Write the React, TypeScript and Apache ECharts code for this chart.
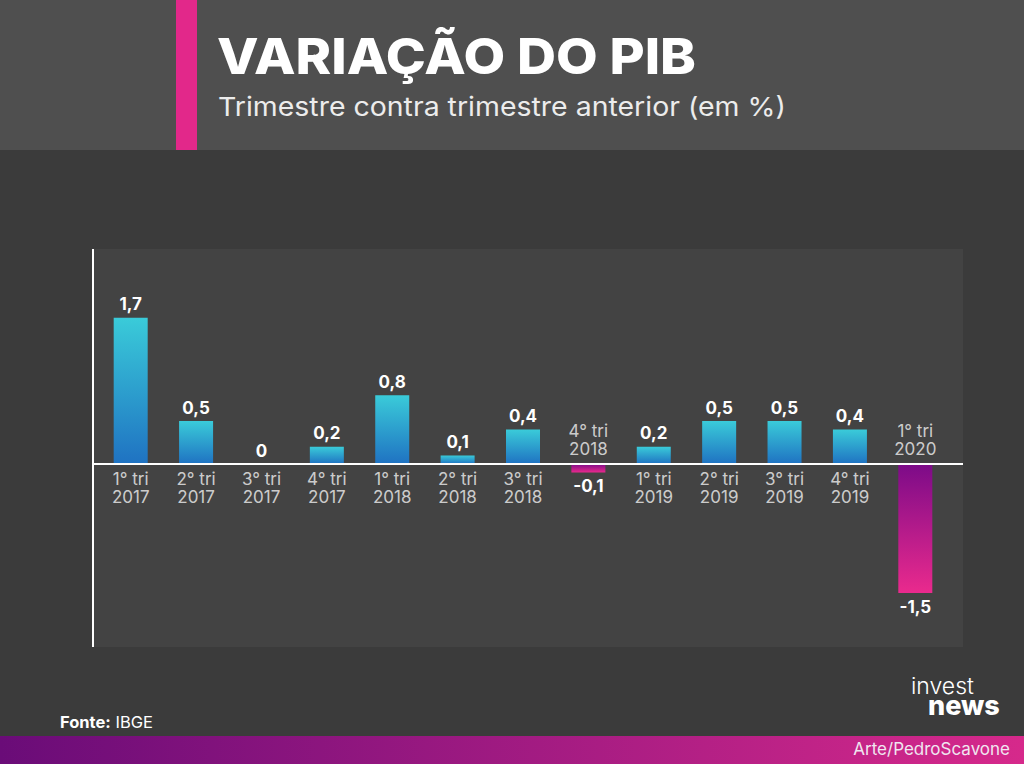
import React, { useEffect, useRef } from "react";
import * as echarts from "echarts";

const categories = [
  "1° tri\n2017", "2° tri\n2017", "3° tri\n2017", "4° tri\n2017",
  "1° tri\n2018", "2° tri\n2018", "3° tri\n2018", "4° tri\n2018",
  "1° tri\n2019", "2° tri\n2019", "3° tri\n2019", "4° tri\n2019",
  "1° tri\n2020",
];
const values = [1.7, 0.5, 0, 0.2, 0.8, 0.1, 0.4, -0.1, 0.2, 0.5, 0.5, 0.4, -1.5];

const titleText = "VARIAÇÃO DO PIB";
const subtitleText = "Trimestre contra trimestre anterior (em %)";
const sourceLabel = "Fonte:";
const sourceText = " IBGE";
const creditText = "Arte/PedroScavone";

const FONT = "Inter, 'Noto Sans', sans-serif";

const fmt = (v: number) => String(v).replace(".", ",");

export default function App() {
  const ref = useRef<HTMLDivElement>(null);
  useEffect(() => {
    if (!ref.current) return;
    const chart = echarts.init(ref.current, undefined, { renderer: "svg" });
    const posGrad = new echarts.graphic.LinearGradient(0, 0, 0, 1, [
      { offset: 0, color: "#3acbd9" },
      { offset: 1, color: "#1f72c2" },
    ]);
    const negGrad = new echarts.graphic.LinearGradient(0, 0, 0, 1, [
      { offset: 0, color: "#7c0b88" },
      { offset: 1, color: "#ea2a8d" },
    ]);
    const footGrad = new echarts.graphic.LinearGradient(0, 0, 1, 0, [
      { offset: 0, color: "#6a0c78" },
      { offset: 1, color: "#d6298b" },
    ]);

    const baseGraphics: any[] = [
      { type: "rect", z: -10, shape: { x: 0, y: 0, width: 1024, height: 764 }, style: { fill: "#3b3b3b" } },
      { type: "rect", z: -9, shape: { x: 0, y: 0, width: 1024, height: 150 }, style: { fill: "#4f4f4f" } },
      { type: "rect", z: -8, shape: { x: 176, y: 0, width: 21, height: 150 }, style: { fill: "#e2288a" } },
      { type: "rect", z: -9, shape: { x: 93, y: 249, width: 870, height: 398 }, style: { fill: "#434343" } },
      { type: "rect", z: -9, shape: { x: 0, y: 736, width: 1024, height: 28 }, style: { fill: footGrad } },
      {
        type: "text", x: 217, y: 31, scaleX: 1.08,
        style: { text: titleText, fill: "#ffffff", font: `800 50px ${FONT}`, verticalAlign: "top", align: "left" },
      },
      {
        type: "text", x: 218, y: 94, scaleX: 1.095,
        style: { text: subtitleText, fill: "#ececec", font: `400 26px ${FONT}`, verticalAlign: "top", align: "left" },
      },
      {
        type: "text", left: 60, top: 713,
        style: {
          text: `{b|${sourceLabel}}{n|${sourceText}}`,
          rich: {
            b: { fill: "#ffffff", font: `700 16.5px ${FONT}` },
            n: { fill: "#ffffff", font: `400 16.5px ${FONT}` },
          },
        },
      },
      {
        type: "text", right: 14, top: 740,
        style: { text: creditText, fill: "#f0e6f0", font: `400 17px ${FONT}` },
      },
      {
        type: "text", left: 911, top: 674,
        style: {
          text: "{a|invest}\n{b|news}",
          rich: {
            a: { fill: "#ffffff", font: `300 23px ${FONT}`, lineHeight: 17 },
            b: { fill: "#ffffff", font: `800 27px ${FONT}`, lineHeight: 22, padding: [0, 0, 0, 17] },
          },
        },
      },
    ];

    chart.setOption({
      animation: false,
      backgroundColor: "#3b3b3b",
      grid: { left: 98, right: 76, top: 292, height: 344 },
      xAxis: {
        type: "category",
        data: categories,
        axisLine: { show: false },
        axisTick: { show: false },
        axisLabel: { show: false },
        splitLine: { show: false },
      },
      yAxis: {
        type: "value",
        min: -2,
        max: 2,
        show: false,
      },
      graphic: baseGraphics,
      series: [
        {
          type: "bar",
          barWidth: 34,
          z: 2,
          data: values.map((v) => ({
            value: v,
            itemStyle: { color: v >= 0 ? posGrad : negGrad },
            label: {
              show: true,
              position: v >= 0 ? "top" : "bottom",
              distance: 5,
              formatter: () => fmt(v),
              color: "#ffffff",
              fontFamily: FONT,
              fontWeight: 700,
              fontSize: 17,
            },
          })),
        },
        {
          type: "scatter",
          symbolSize: 0,
          z: 3,
          silent: true,
          data: values.map((v, i) => ({
            value: [i, 0],
            label: {
              show: true,
              position: v >= 0 ? "bottom" : "top",
              distance: 6,
              formatter: () => categories[i],
              color: "#f2f2f2",
              fontFamily: FONT,
              fontWeight: 400,
              fontSize: 17,
              lineHeight: 18,
              align: "center",
            },
          })),
        },
      ],
    });

    const zeroY = chart.convertToPixel({ yAxisIndex: 0 }, 0) as number;
    chart.setOption({
      graphic: [
        ...baseGraphics,
        {
          type: "line", z: 5,
          shape: { x1: 93, y1: zeroY, x2: 963, y2: zeroY },
          style: { stroke: "#ffffff", lineWidth: 2 },
        },
        {
          type: "line", z: 5,
          shape: { x1: 93, y1: 249, x2: 93, y2: 647 },
          style: { stroke: "#ffffff", lineWidth: 2 },
        },
      ],
    });

    return () => chart.dispose();
  }, []);
  return (
    <div
      ref={ref}
      style={{ position: "fixed", left: 0, top: 0, width: 1024, height: 764 }}
    />
  );
}
